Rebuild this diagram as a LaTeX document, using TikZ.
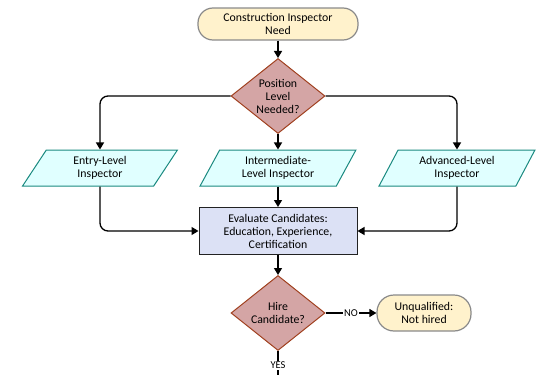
\documentclass[tikz,border=0pt]{standalone}
\usepackage{fontspec}
\setmainfont{Carlito}
\usetikzlibrary{shapes.geometric,arrows.meta}

\definecolor{termfill}{HTML}{FFF2CC}
\definecolor{termline}{HTML}{8A8A8A}
\definecolor{decfill}{HTML}{D4A5A5}
\definecolor{decline}{HTML}{A0401F}
\definecolor{iofill}{HTML}{E0FFFF}
\definecolor{ioline}{HTML}{1A8A80}
\definecolor{procfill}{HTML}{DCE1F5}
\definecolor{procline}{HTML}{222222}

\begin{document}
\begin{tikzpicture}[x=1pt,y=-1pt,
  font=\fontsize{11.8}{13}\selectfont,
  term/.style={draw=termline,fill=termfill,line width=1.2pt,rounded corners=15pt,
    align=center,minimum height=32pt,inner sep=2pt},
  decision/.style={draw=decline,fill=decfill,line width=1pt,diamond,aspect=1.25,
    align=center,inner sep=0pt,minimum width=94pt,minimum height=75pt},
  iobox/.style={draw=ioline,fill=iofill,line width=1pt,trapezium,trapezium stretches=true,
    trapezium left angle=66,trapezium right angle=114,align=center,
    minimum width=156pt,minimum height=36pt},
  procbox/.style={draw=procline,fill=procfill,line width=1pt,align=center,
    minimum width=158pt,minimum height=47pt,inner sep=1pt},
  arrow/.style={line width=1.3pt,-{Triangle[length=7pt,width=8pt]}},
  flowlabel/.style={fill=white,inner sep=1pt,font=\fontsize{10.5}{11}\selectfont}]
\useasboundingbox (0,0) rectangle (539,375);

\node[term,minimum width=160pt] (start) at (278,24) {Construction Inspector\\Need};
\node[decision] (level) at (278,96) {Position\\Level\\Needed?};
\node[iobox] (entry) at (100,168) {Entry-Level\\Inspector};
\node[iobox] (inter) at (278,168) {Intermediate-\\Level Inspector};
\node[iobox] (adv) at (457,168) {Advanced-Level\\Inspector};
\node[procbox] (eval) at (278,231) {Evaluate Candidates:\\Education, Experience,\\Certification};
\node[decision] (hire) at (278,313) {Hire\\Candidate?};
\node[term,minimum width=94pt,minimum height=36pt,rounded corners=17pt] (unq) at (424,313) {Unqualified:\\Not hired};
\coordinate (hired) at (278,383);

\draw[arrow] (start) -- (level);
\draw[arrow,rounded corners=8pt] (level.west) -| (entry.north);
\draw[arrow] (level) -- (inter);
\draw[arrow,rounded corners=8pt] (level.east) -| (adv.north);
\draw[arrow,rounded corners=8pt] (entry.south) |- (eval.west);
\draw[arrow] (inter) -- (eval);
\draw[arrow,rounded corners=8pt] (adv.south) |- (eval.east);
\draw[arrow] (eval) -- (hire);
\draw[arrow] (hire) -- node[flowlabel] {NO} (unq);
\draw[arrow] (hire) -- node[flowlabel,pos=0.45] {YES} (hired);
\end{tikzpicture}
\end{document}
